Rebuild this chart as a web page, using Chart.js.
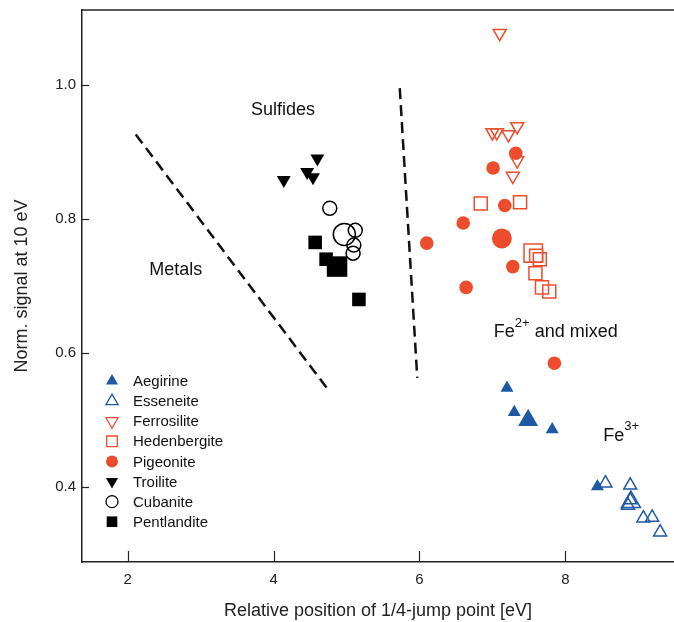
<!DOCTYPE html>
<html lang="en">
<head>
<meta charset="UTF-8">
<title>Norm. signal vs 1/4-jump point</title>
<script src="https://cdn.jsdelivr.net/npm/chart.js"></script>
<style>
  body { margin: 0; background: #fff; }
  #wrap { width: 674px; height: 622px; }
</style>
</head>
<body>
<div id="wrap"><canvas id="myChart" width="674" height="622"></canvas></div>
<script>
// data: [x = 1/4-jump point (eV), y = norm. signal at 10 eV]
const aegirine = [[7.20, 0.548], [7.30, 0.512], [7.49, 0.500], [7.82, 0.486], [8.44, 0.401]];
const esseneite = [[8.55, 0.406], [8.89, 0.403], [8.90, 0.378], [8.86, 0.373], [8.89, 0.381], [9.07, 0.354], [9.19, 0.355], [9.30, 0.333]];
const ferrosilite = [[7.10, 1.077], [7.00, 0.929], [7.06, 0.929], [7.22, 0.926], [7.34, 0.938], [7.34, 0.887], [7.28, 0.864]];
const hedenbergite = [[6.84, 0.823], [7.38, 0.825], [7.56, 0.749], [7.60, 0.745], [7.65, 0.740], [7.59, 0.719], [7.68, 0.698], [7.78, 0.692]];
const pigeonite = [[7.32, 0.898], [7.01, 0.876], [7.17, 0.820], [6.60, 0.794], [6.10, 0.764], [7.13, 0.771], [7.28, 0.729], [6.64, 0.698], [7.85, 0.585]];
const troilite = [[4.14, 0.858], [4.60, 0.890], [4.46, 0.870], [4.54, 0.862]];
const cubanite = [[4.77, 0.816], [4.97, 0.777], [5.12, 0.783], [5.10, 0.761], [5.09, 0.749]];
const pentlandite = [[4.57, 0.765], [4.72, 0.740], [4.87, 0.729], [5.17, 0.680]];

// dashed boundary lines
const metalsLine = [[2.11, 0.926], [4.75, 0.545]];
const sulfideLine = [[5.73, 0.995], [5.97, 0.563]];

const xTicks = [2, 4, 6, 8];
const yTicks = [0.4, 0.6, 0.8, 1.0];

const BLUE = '#1f59a6';
const RED = '#ee4d2d';
const BLACK = '#000';

const toPts = arr => arr.map(p => ({ x: p[0], y: p[1] }));

// marker style: shape, colour, filled?, normal radius, radius of the large (average) marker, its index
function series(label, arr, shape, color, filled, r, bigR, bigIdx, rot) {
  return {
    label: label,
    data: toPts(arr),
    showLine: false,
    pointStyle: shape,
    rotation: rot || 0,
    pointRotation: rot || 0,
    pointRadius: ctx => (ctx.dataIndex === bigIdx ? bigR : r),
    pointHoverRadius: ctx => (ctx.dataIndex === bigIdx ? bigR : r),
    pointBackgroundColor: filled ? color : 'rgba(0,0,0,0)',
    pointBorderColor: color,
    pointBorderWidth: filled ? 0 : 1.5,
    backgroundColor: filled ? color : 'rgba(0,0,0,0)',
    borderColor: color,
    isLegend: true,
    legendFilled: filled
  };
}

function dashed(arr) {
  return {
    type: 'line',
    data: toPts(arr),
    showLine: true,
    borderColor: '#111',
    borderWidth: 2.5,
    borderDash: [11, 6],
    pointRadius: 0,
    fill: false,
    isLegend: false
  };
}

const datasets = [
  series('Aegirine', aegirine, 'triangle', BLUE, true, 7.5, 11.5, 2),
  series('Esseneite', esseneite, 'triangle', BLUE, false, 7.5, 11, 2),
  series('Ferrosilite', ferrosilite, 'triangle', RED, false, 7.5, 7.5, -1, 180),
  series('Hedenbergite', hedenbergite, 'rect', RED, false, 9.2, 13, 2),
  series('Pigeonite', pigeonite, 'circle', RED, true, 6.8, 10, 5),
  series('Troilite', troilite, 'triangle', BLACK, true, 8, 8, -1, 180),
  series('Cubanite', cubanite, 'circle', BLACK, false, 7, 11, 1),
  series('Pentlandite', pentlandite, 'rect', BLACK, true, 9.6, 14.5, 2),
  dashed(metalsLine),
  dashed(sulfideLine)
];
// later datasets drawn on top
datasets.forEach((d, i) => { d.order = 20 - i; });

const FONT = '"Liberation Sans", Arial, sans-serif';
const TEXT = '#222';

// labels placed in data coordinates
const notes = [
  { text: 'Sulfides', x: 4.13, y: 0.962, align: 'center' },
  { text: 'Metals', x: 2.66, y: 0.724, align: 'center' },
  { text: 'Fe', sup: '2+', rest: ' and mixed', x: 7.02, y: 0.631, align: 'left' },
  { text: 'Fe', sup: '3+', rest: '', x: 8.52, y: 0.477, align: 'left' }
];

const decor = {
  id: 'decor',
  afterDraw(chart) {
    const ctx = chart.ctx;
    const xs = chart.scales.x, ys = chart.scales.y;
    const a = chart.chartArea;
    ctx.save();
    // top frame line
    ctx.strokeStyle = '#222';
    ctx.lineWidth = 1.5;
    ctx.beginPath();
    ctx.moveTo(a.left, a.top);
    ctx.lineTo(a.right, a.top);
    ctx.stroke();
    // inward ticks
    ctx.lineWidth = 1.2;
    xTicks.forEach(v => {
      const px = Math.round(xs.getPixelForValue(v)) + 0.5;
      ctx.beginPath(); ctx.moveTo(px, a.bottom); ctx.lineTo(px, a.bottom - 11); ctx.stroke();
    });
    yTicks.forEach(v => {
      const py = Math.round(ys.getPixelForValue(v)) + 0.5;
      ctx.beginPath(); ctx.moveTo(a.left, py); ctx.lineTo(a.left + 7, py); ctx.stroke();
    });

    // text notes
    ctx.fillStyle = '#111';
    ctx.textBaseline = 'middle';
    notes.forEach(n => {
      const px = xs.getPixelForValue(n.x), py = ys.getPixelForValue(n.y);
      ctx.font = '18px ' + FONT;
      if (!n.sup) {
        ctx.textAlign = n.align;
        ctx.fillText(n.text, px, py);
        return;
      }
      ctx.textAlign = 'left';
      let cx = px;
      ctx.fillText(n.text, cx, py);
      cx += ctx.measureText(n.text).width;
      ctx.font = '13px ' + FONT;
      ctx.fillText(n.sup, cx, py - 9);
      cx += ctx.measureText(n.sup).width;
      ctx.font = '18px ' + FONT;
      ctx.fillText(n.rest, cx, py);
    });

    // legend inside the plot, lower left
    let ly = 381;
    const mx = 112, tx = 133;
    chart.data.datasets.filter(d => d.isLegend).forEach(d => {
      ctx.fillStyle = d.legendFilled ? d.borderColor : 'rgba(0,0,0,0)';
      ctx.strokeStyle = d.borderColor;
      ctx.lineWidth = 1.3;
      const r = d.pointStyle === 'rect' ? 7.5 : (d.pointStyle === 'circle' ? 6 : 7);
      Chart.helpers.drawPoint(ctx, { pointStyle: d.pointStyle, rotation: d.rotation, radius: r, borderWidth: d.legendFilled ? 0 : 1.3 }, mx, ly);
      ctx.fillStyle = '#111';
      ctx.font = '15px ' + FONT;
      ctx.textAlign = 'left';
      ctx.fillText(d.label, tx, ly + 1);
      ly += 20.1;
    });
    ctx.restore();
  }
};

new Chart(document.getElementById('myChart').getContext('2d'), {
  type: 'scatter',
  data: { datasets: datasets },
  options: {
    responsive: false,
    animation: false,
    devicePixelRatio: 1,
    layout: { autoPadding: false, padding: { top: 10, right: 0, left: 0, bottom: 0 } },
    plugins: { legend: { display: false }, tooltip: { enabled: false } },
    scales: {
      x: {
        type: 'linear',
        min: 1.373,
        max: 9.49,
        afterBuildTicks: s => { s.ticks = xTicks.map(v => ({ value: v })); },
        afterFit: s => { s.height = 60; s.paddingLeft = 0; s.paddingRight = 0; },
        grid: { display: true, drawOnChartArea: false, drawTicks: false },
        border: { display: true, color: '#222', width: 1.5 },
        ticks: { color: TEXT, font: { size: 15, family: FONT }, padding: 9, maxRotation: 0 },
        title: { display: true, text: 'Relative position of 1/4-jump point [eV]', color: TEXT, font: { size: 18, family: FONT }, padding: { top: 7, bottom: 0 } }
      },
      y: {
        type: 'linear',
        min: 0.2886,
        max: 1.1115,
        afterBuildTicks: s => { s.ticks = yTicks.map(v => ({ value: v })); },
        afterFit: s => { s.width = 82; s.paddingTop = 0; s.paddingBottom = 0; },
        grid: { display: true, drawOnChartArea: false, drawTicks: false },
        border: { display: true, color: '#222', width: 1.5 },
        ticks: { color: TEXT, font: { size: 15, family: FONT }, padding: 6, callback: v => v.toFixed(1) },
        title: { display: true, text: 'Norm. signal at 10 eV', color: TEXT, font: { size: 18, family: FONT }, padding: { top: 11, bottom: 0 } }
      }
    }
  },
  plugins: [decor]
});
</script>
</body>
</html>
